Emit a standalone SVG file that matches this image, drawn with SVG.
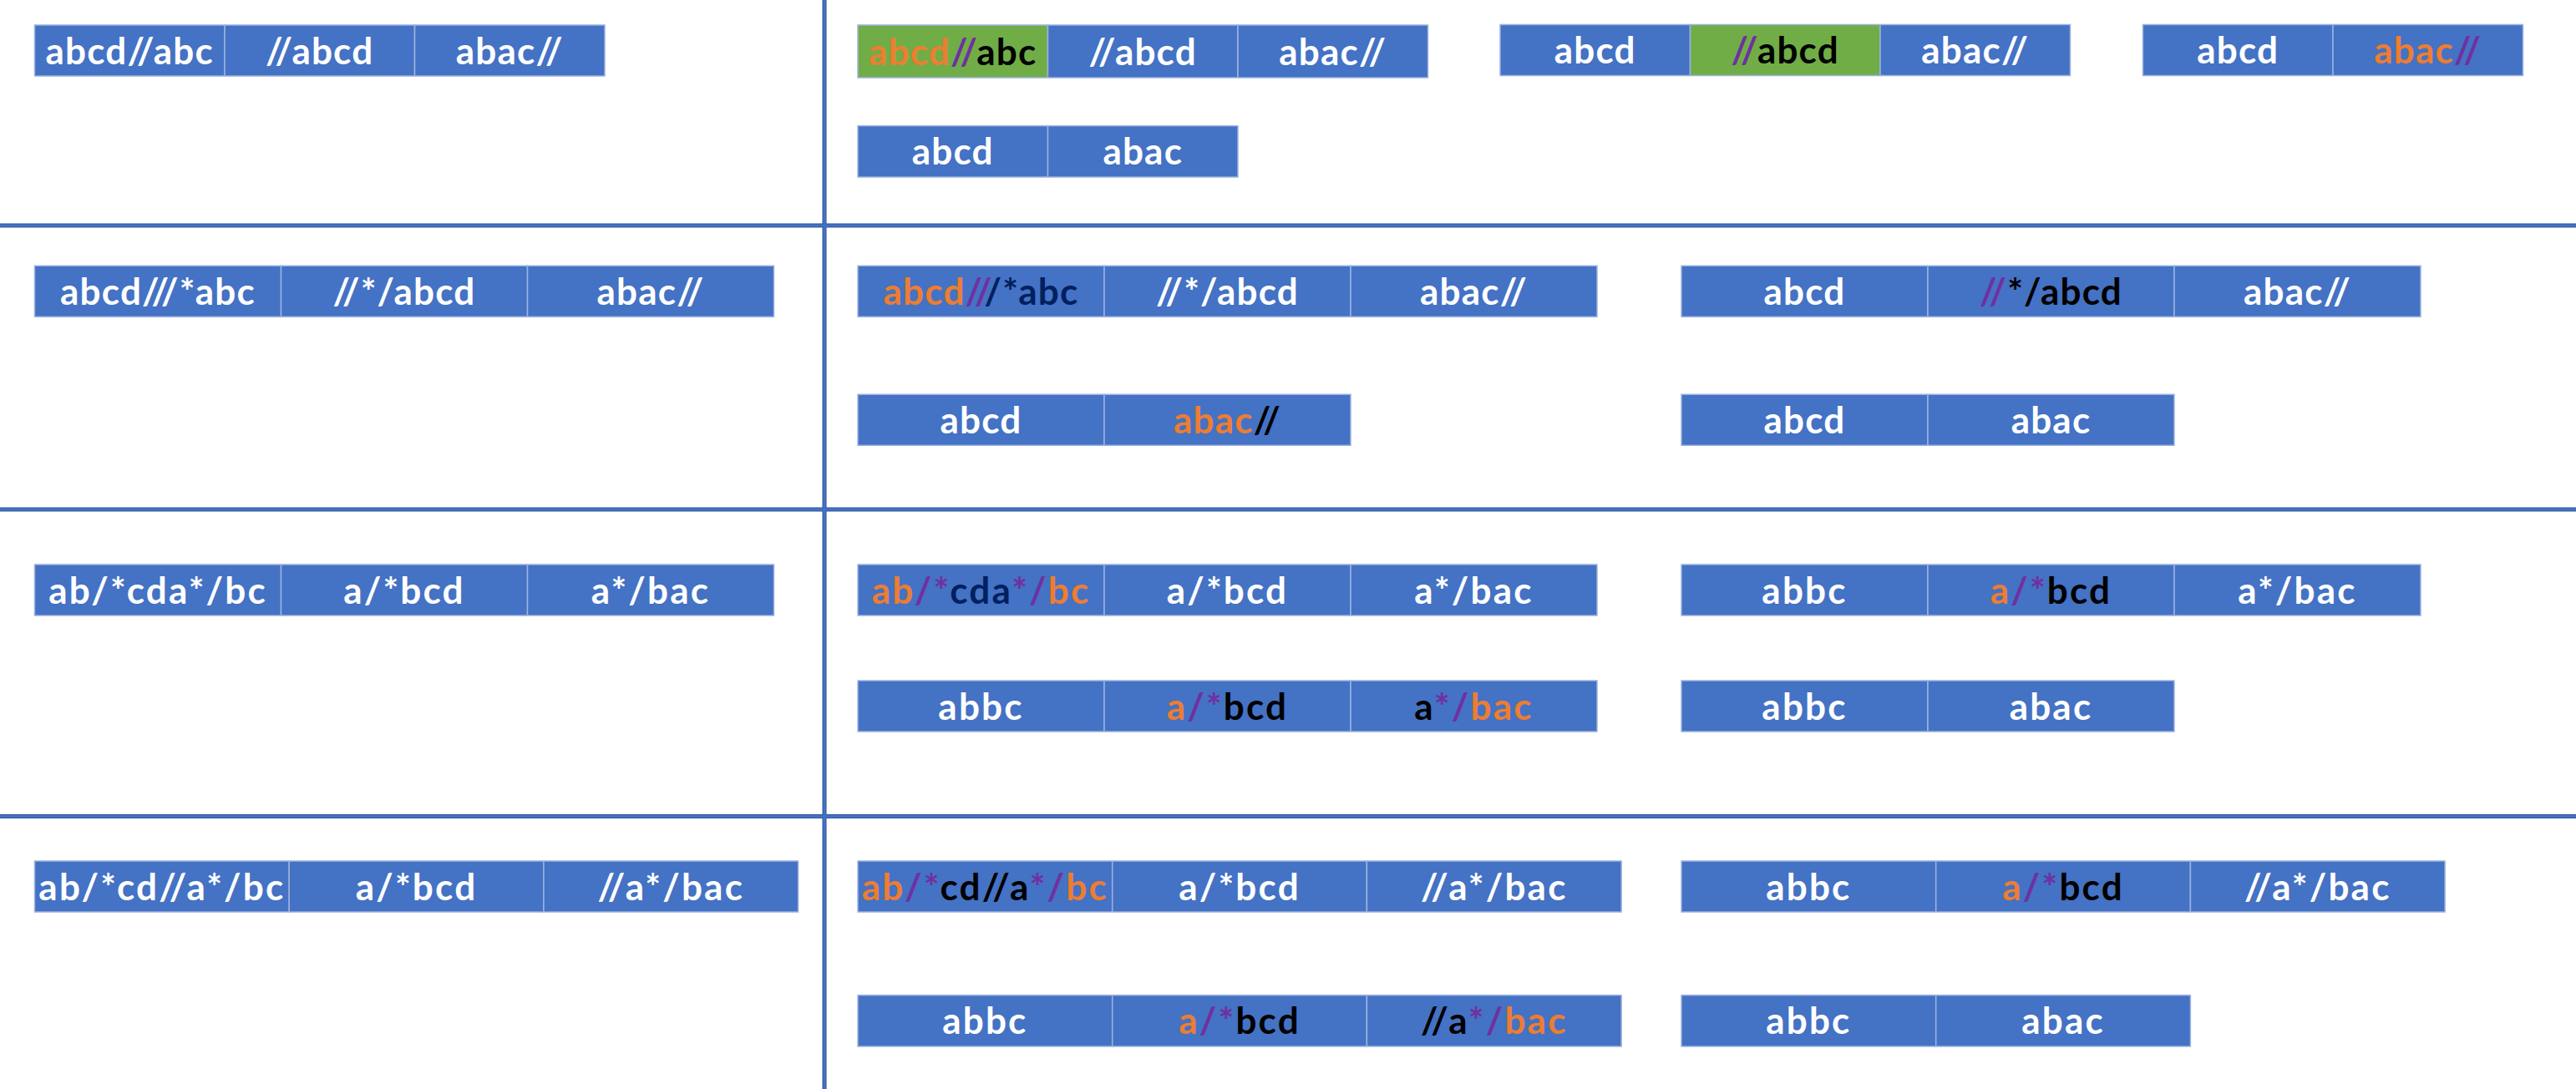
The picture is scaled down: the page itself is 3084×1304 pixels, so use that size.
<svg xmlns="http://www.w3.org/2000/svg" width="3084" height="1304" viewBox="0 0 3084 1304">
<style>
.c{fill:#4472C4;stroke:#9DB3E0;stroke-width:1.5}
.g{fill:#70AD47;stroke:#9DB3E0;stroke-width:1.5}
text{font-family:Lato,"Open Sans","Liberation Sans",sans-serif;font-weight:700;font-size:44px;fill:#FFFFFF;text-anchor:middle}
.a{letter-spacing:1.2px}
.b{letter-spacing:2.2px}
.o{fill:#ED7D31}.p{fill:#7030A0}.n{fill:#002060}.k{fill:#000000}
.lo{stroke:#2F5597;stroke-width:5}
.li{stroke:#4472C4;stroke-width:3}
</style>
<rect x="0" y="0" width="3084" height="1304" fill="#FFFFFF"/>
<g id="grid">
<g class="lo"><line x1="987" y1="0" x2="987" y2="1304"/><line x1="0" y1="270" x2="3084" y2="270"/><line x1="0" y1="610" x2="3084" y2="610"/><line x1="0" y1="977.5" x2="3084" y2="977.5"/></g>
<g class="li"><line x1="987" y1="0" x2="987" y2="1304"/><line x1="0" y1="270" x2="3084" y2="270"/><line x1="0" y1="610" x2="3084" y2="610"/><line x1="0" y1="977.5" x2="3084" y2="977.5"/></g>
</g>

<!-- Row 1 -->
<g id="r1-left">
<g id="r1-left-1"><rect class="c" x="41.5" y="30" width="227.5" height="61"/><text class="a" x="155.25" y="76.5">abcd//abc</text></g>
<g id="r1-left-2"><rect class="c" x="269" y="30" width="227.5" height="61"/><text class="a" x="382.75" y="76.5">//abcd</text></g>
<g id="r1-left-3"><rect class="c" x="496.5" y="30" width="227.5" height="61"/><text class="a" x="610.25" y="76.5">abac//</text></g>
</g>
<g id="r1-A">
<g id="r1-A-1"><rect class="g" x="1027" y="30" width="227.5" height="63"/><text class="a" x="1140.75" y="77.5"><tspan class="o">abcd</tspan><tspan class="p">//</tspan><tspan class="k">abc</tspan></text></g>
<g id="r1-A-2"><rect class="c" x="1254.5" y="30" width="227.5" height="63"/><text class="a" x="1368.25" y="77.5">//abcd</text></g>
<g id="r1-A-3"><rect class="c" x="1482" y="30" width="227.5" height="63"/><text class="a" x="1595.75" y="77.5">abac//</text></g>
</g>
<g id="r1-A2">
<g id="r1-A2-1"><rect class="c" x="1027" y="150.7" width="227.5" height="61.3"/><text class="a" x="1140.75" y="197.4">abcd</text></g>
<g id="r1-A2-2"><rect class="c" x="1254.5" y="150.7" width="227.5" height="61.3"/><text class="a" x="1368.25" y="197.4">abac</text></g>
</g>
<g id="r1-B">
<g id="r1-B-1"><rect class="c" x="1796" y="29.5" width="227.5" height="61"/><text class="a" x="1909.75" y="76">abcd</text></g>
<g id="r1-B-2"><rect class="g" x="2023.5" y="29.5" width="227.5" height="61"/><text class="a" x="2137.25" y="76"><tspan class="p">//</tspan><tspan class="k">abcd</tspan></text></g>
<g id="r1-B-3"><rect class="c" x="2251" y="29.5" width="227.5" height="61"/><text class="a" x="2364.75" y="76">abac//</text></g>
</g>
<g id="r1-C">
<g id="r1-C-1"><rect class="c" x="2565.5" y="29.5" width="227.5" height="61"/><text class="a" x="2679.25" y="76">abcd</text></g>
<g id="r1-C-2"><rect class="c" x="2793" y="29.5" width="227.5" height="61"/><text class="a" x="2906.75" y="76"><tspan class="o">abac</tspan><tspan class="p">//</tspan></text></g>
</g>

<!-- Row 2 -->
<g id="r2-left">
<g id="r2-left-1"><rect class="c" x="41.5" y="318.3" width="295" height="61"/><text class="a" x="189" y="364.8">abcd///*abc</text></g>
<g id="r2-left-2"><rect class="c" x="336.5" y="318.3" width="295" height="61"/><text class="a" x="484" y="364.8">//*/abcd</text></g>
<g id="r2-left-3"><rect class="c" x="631.5" y="318.3" width="295" height="61"/><text class="a" x="779" y="364.8">abac//</text></g>
</g>
<g id="r2-A">
<g id="r2-A-1"><rect class="c" x="1027" y="318.3" width="295" height="61"/><text class="a" x="1174.5" y="364.8"><tspan class="o">abcd</tspan><tspan class="p">//</tspan><tspan class="n">/*abc</tspan></text></g>
<g id="r2-A-2"><rect class="c" x="1322" y="318.3" width="295" height="61"/><text class="a" x="1469.5" y="364.8">//*/abcd</text></g>
<g id="r2-A-3"><rect class="c" x="1617" y="318.3" width="295" height="61"/><text class="a" x="1764.5" y="364.8">abac//</text></g>
</g>
<g id="r2-A2">
<g id="r2-A2-1"><rect class="c" x="1027" y="472.3" width="295" height="61"/><text class="a" x="1174.5" y="518.8">abcd</text></g>
<g id="r2-A2-2"><rect class="c" x="1322" y="472.3" width="295" height="61"/><text class="a" x="1469.5" y="518.8"><tspan class="o">abac</tspan><tspan class="k">//</tspan></text></g>
</g>
<g id="r2-B">
<g id="r2-B-1"><rect class="c" x="2013" y="318.3" width="295" height="61"/><text class="a" x="2160.5" y="364.8">abcd</text></g>
<g id="r2-B-2"><rect class="c" x="2308" y="318.3" width="295" height="61"/><text class="a" x="2455.5" y="364.8"><tspan class="p">//</tspan><tspan class="k">*/abcd</tspan></text></g>
<g id="r2-B-3"><rect class="c" x="2603" y="318.3" width="295" height="61"/><text class="a" x="2750.5" y="364.8">abac//</text></g>
</g>
<g id="r2-B2">
<g id="r2-B2-1"><rect class="c" x="2013" y="472.3" width="295" height="61"/><text class="a" x="2160.5" y="518.8">abcd</text></g>
<g id="r2-B2-2"><rect class="c" x="2308" y="472.3" width="295" height="61"/><text class="a" x="2455.5" y="518.8">abac</text></g>
</g>

<!-- Row 3 -->
<g id="r3-left">
<g id="r3-left-1"><rect class="c" x="41.5" y="676" width="295" height="61"/><text class="b" x="189" y="722.5">ab/*cda*/bc</text></g>
<g id="r3-left-2"><rect class="c" x="336.5" y="676" width="295" height="61"/><text class="b" x="484" y="722.5">a/*bcd</text></g>
<g id="r3-left-3"><rect class="c" x="631.5" y="676" width="295" height="61"/><text class="b" x="779" y="722.5">a*/bac</text></g>
</g>
<g id="r3-A">
<g id="r3-A-1"><rect class="c" x="1027" y="676" width="295" height="61"/><text class="b" x="1174.5" y="722.5"><tspan class="o">ab</tspan><tspan class="p">/*</tspan><tspan class="n">cda</tspan><tspan class="p">*/</tspan><tspan class="o">bc</tspan></text></g>
<g id="r3-A-2"><rect class="c" x="1322" y="676" width="295" height="61"/><text class="b" x="1469.5" y="722.5">a/*bcd</text></g>
<g id="r3-A-3"><rect class="c" x="1617" y="676" width="295" height="61"/><text class="b" x="1764.5" y="722.5">a*/bac</text></g>
</g>
<g id="r3-A2">
<g id="r3-A2-1"><rect class="c" x="1027" y="815" width="295" height="61"/><text class="b" x="1174.5" y="861.5">abbc</text></g>
<g id="r3-A2-2"><rect class="c" x="1322" y="815" width="295" height="61"/><text class="b" x="1469.5" y="861.5"><tspan class="o">a</tspan><tspan class="p">/*</tspan><tspan class="k">bcd</tspan></text></g>
<g id="r3-A2-3"><rect class="c" x="1617" y="815" width="295" height="61"/><text class="b" x="1764.5" y="861.5"><tspan class="k">a</tspan><tspan class="p">*/</tspan><tspan class="o">bac</tspan></text></g>
</g>
<g id="r3-B">
<g id="r3-B-1"><rect class="c" x="2013" y="676" width="295" height="61"/><text class="b" x="2160.5" y="722.5">abbc</text></g>
<g id="r3-B-2"><rect class="c" x="2308" y="676" width="295" height="61"/><text class="b" x="2455.5" y="722.5"><tspan class="o">a</tspan><tspan class="p">/*</tspan><tspan class="k">bcd</tspan></text></g>
<g id="r3-B-3"><rect class="c" x="2603" y="676" width="295" height="61"/><text class="b" x="2750.5" y="722.5">a*/bac</text></g>
</g>
<g id="r3-B2">
<g id="r3-B2-1"><rect class="c" x="2013" y="815" width="295" height="61"/><text class="b" x="2160.5" y="861.5">abbc</text></g>
<g id="r3-B2-2"><rect class="c" x="2308" y="815" width="295" height="61"/><text class="b" x="2455.5" y="861.5">abac</text></g>
</g>

<!-- Row 4 -->
<g id="r4-left">
<g id="r4-left-1"><rect class="c" x="41.5" y="1031" width="304.7" height="61"/><text class="b" x="193.85" y="1077.5">ab/*cd//a*/bc</text></g>
<g id="r4-left-2"><rect class="c" x="346.2" y="1031" width="304.7" height="61"/><text class="b" x="498.55" y="1077.5">a/*bcd</text></g>
<g id="r4-left-3"><rect class="c" x="650.9" y="1031" width="304.7" height="61"/><text class="b" x="803.25" y="1077.5">//a*/bac</text></g>
</g>
<g id="r4-A">
<g id="r4-A-1"><rect class="c" x="1027" y="1031" width="304.7" height="61"/><text class="b" x="1179.35" y="1077.5"><tspan class="o">ab</tspan><tspan class="p">/*</tspan><tspan class="k">cd//a</tspan><tspan class="p">*/</tspan><tspan class="o">bc</tspan></text></g>
<g id="r4-A-2"><rect class="c" x="1331.7" y="1031" width="304.7" height="61"/><text class="b" x="1484.05" y="1077.5">a/*bcd</text></g>
<g id="r4-A-3"><rect class="c" x="1636.4" y="1031" width="304.7" height="61"/><text class="b" x="1788.75" y="1077.5">//a*/bac</text></g>
</g>
<g id="r4-A2">
<g id="r4-A2-1"><rect class="c" x="1027" y="1191.7" width="304.7" height="61.3"/><text class="b" x="1179.35" y="1238">abbc</text></g>
<g id="r4-A2-2"><rect class="c" x="1331.7" y="1191.7" width="304.7" height="61.3"/><text class="b" x="1484.05" y="1238"><tspan class="o">a</tspan><tspan class="p">/*</tspan><tspan class="k">bcd</tspan></text></g>
<g id="r4-A2-3"><rect class="c" x="1636.4" y="1191.7" width="304.7" height="61.3"/><text class="b" x="1788.75" y="1238"><tspan class="k">//a</tspan><tspan class="p">*/</tspan><tspan class="o">bac</tspan></text></g>
</g>
<g id="r4-B">
<g id="r4-B-1"><rect class="c" x="2013" y="1031" width="304.7" height="61"/><text class="b" x="2165.35" y="1077.5">abbc</text></g>
<g id="r4-B-2"><rect class="c" x="2317.7" y="1031" width="304.7" height="61"/><text class="b" x="2470.05" y="1077.5"><tspan class="o">a</tspan><tspan class="p">/*</tspan><tspan class="k">bcd</tspan></text></g>
<g id="r4-B-3"><rect class="c" x="2622.4" y="1031" width="304.7" height="61"/><text class="b" x="2774.75" y="1077.5">//a*/bac</text></g>
</g>
<g id="r4-B2">
<g id="r4-B2-1"><rect class="c" x="2013" y="1191.7" width="304.7" height="61.3"/><text class="b" x="2165.35" y="1238">abbc</text></g>
<g id="r4-B2-2"><rect class="c" x="2317.7" y="1191.7" width="304.7" height="61.3"/><text class="b" x="2470.05" y="1238">abac</text></g>
</g>
</svg>
